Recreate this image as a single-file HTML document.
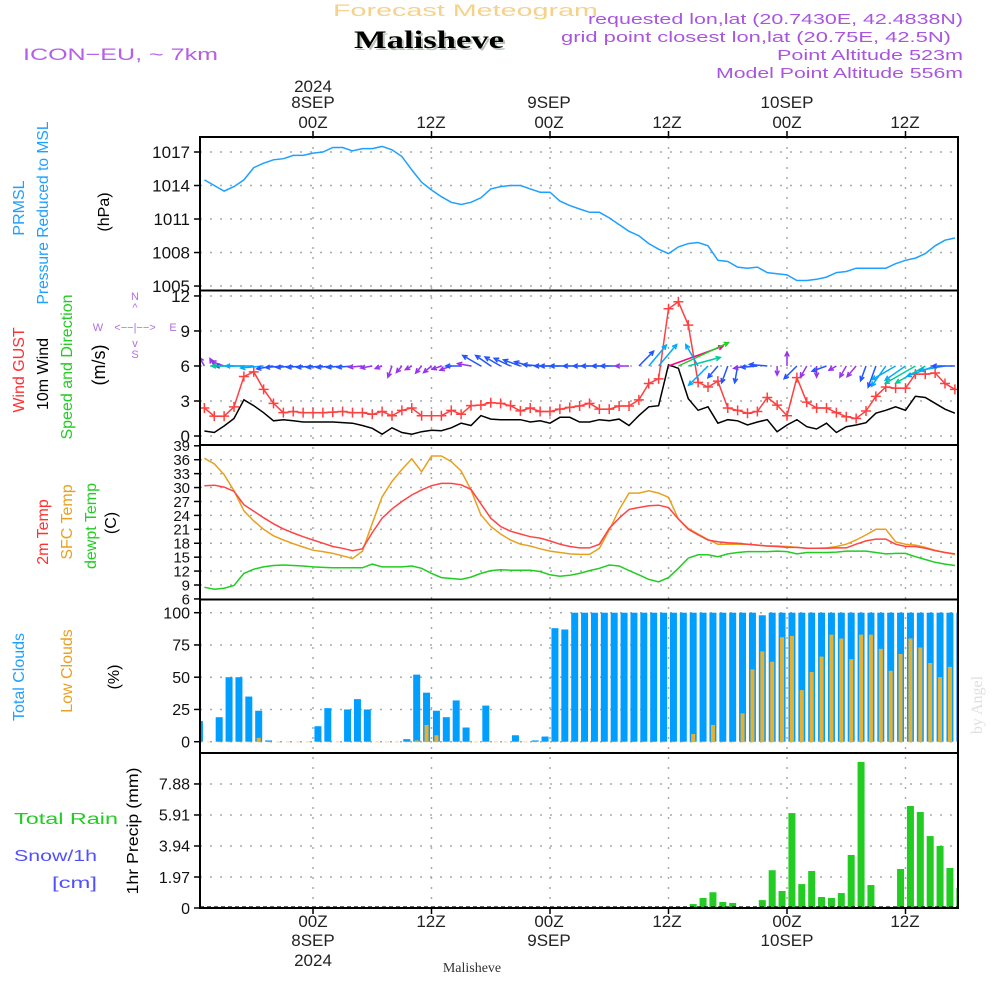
<!DOCTYPE html>
<html><head><meta charset="utf-8"><style>
html,body{margin:0;padding:0;background:#fff;}
svg{display:block;font-family:"Liberation Sans",sans-serif;}
</style></head><body>
<svg id="chart" width="1000" height="1000" viewBox="0 0 1000 1000" xmlns="http://www.w3.org/2000/svg">
<rect x="0" y="0" width="1000" height="1000" fill="#fff"/>
<g id="texts">
<text x="333" y="16" font-size="17" fill="#f5d28a" textLength="265" lengthAdjust="spacingAndGlyphs">Forecast Meteogram</text>
<text x="356" y="50" font-family="Liberation Serif,serif" font-weight="bold" font-size="25" fill="#b8c4b8" textLength="150" lengthAdjust="spacingAndGlyphs">Malisheve</text>
<text x="354" y="48" font-family="Liberation Serif,serif" font-weight="bold" font-size="25" fill="#000" textLength="150" lengthAdjust="spacingAndGlyphs">Malisheve</text>
<text x="23" y="60" font-size="17" fill="#b65ee8" textLength="195" lengthAdjust="spacingAndGlyphs">ICON−EU, ~ 7km</text>
<g fill="#a855e0" font-size="15" text-anchor="end">
<text x="963" y="24" textLength="375" lengthAdjust="spacingAndGlyphs">requested lon,lat (20.7430E, 42.4838N)</text>
<text x="951" y="42" textLength="390" lengthAdjust="spacingAndGlyphs">grid point closest lon,lat (20.75E, 42.5N)</text>
<text x="963" y="60" textLength="186" lengthAdjust="spacingAndGlyphs">Point Altitude 523m</text>
<text x="963" y="78" textLength="247" lengthAdjust="spacingAndGlyphs">Model Point Altitude 556m</text>
</g>
<g fill="#222" font-size="17" text-anchor="middle">
<text x="313" y="92">2024</text>
<text x="313" y="108">8SEP</text>
<text x="549" y="108">9SEP</text>
<text x="787" y="108">10SEP</text>
<text x="313" y="128">00Z</text>
<text x="431" y="128">12Z</text>
<text x="549" y="128">00Z</text>
<text x="667" y="128">12Z</text>
<text x="787" y="128">00Z</text>
<text x="905" y="128">12Z</text>
<text x="313" y="927">00Z</text>
<text x="431" y="927">12Z</text>
<text x="549" y="927">00Z</text>
<text x="667" y="927">12Z</text>
<text x="787" y="927">00Z</text>
<text x="905" y="927">12Z</text>
<text x="313" y="946">8SEP</text>
<text x="549" y="946">9SEP</text>
<text x="787" y="946">10SEP</text>
<text x="313" y="966">2024</text>
</g>
<text x="472" y="972" text-anchor="middle" font-family="Liberation Serif,serif" font-size="14" fill="#333">Malisheve</text>
<text transform="translate(982,705) rotate(-90)" text-anchor="middle" font-family="Liberation Serif,serif" font-size="16" fill="#dde0dd">by Angel</text>
<g font-size="16" text-anchor="middle">
<text transform="translate(24,208) rotate(-90)" fill="#1ea0ff">PRMSL</text>
<text transform="translate(48,213) rotate(-90)" fill="#1ea0ff" textLength="183" lengthAdjust="spacingAndGlyphs">Pressure Reduced to MSL</text>
<text transform="translate(109,212) rotate(-90)" fill="#000">(hPa)</text>
<text transform="translate(24,370) rotate(-90)" fill="#ff3030">Wind GUST</text>
<text transform="translate(48,374) rotate(-90)" fill="#000">10m Wind</text>
<text transform="translate(72,367) rotate(-90)" fill="#22cc22" textLength="145" lengthAdjust="spacingAndGlyphs">Speed and Direction</text>
<text transform="translate(105,365) rotate(-90)" fill="#000" font-size="18">(m/s)</text>
<text transform="translate(48,532) rotate(-90)" fill="#ff3030">2m Temp</text>
<text transform="translate(72,522) rotate(-90)" fill="#e8a020">SFC Temp</text>
<text transform="translate(96,526) rotate(-90)" fill="#22cc22">dewpt Temp</text>
<text transform="translate(116,523) rotate(-90)" fill="#000">(C)</text>
<text transform="translate(24,677) rotate(-90)" fill="#1ea0ff">Total Clouds</text>
<text transform="translate(72,671) rotate(-90)" fill="#e8a020">Low Clouds</text>
<text transform="translate(119,677) rotate(-90)" fill="#000">(%)</text>
<text transform="translate(138,831) rotate(-90)" fill="#000" textLength="127" lengthAdjust="spacingAndGlyphs">1hr Precip (mm)</text>
</g>
<text x="14" y="824" font-size="16" fill="#22cc22" textLength="104" lengthAdjust="spacingAndGlyphs">Total  Rain</text>
<text x="14" y="861" font-size="16" fill="#5050ff" textLength="83" lengthAdjust="spacingAndGlyphs">Snow/1h</text>
<text x="52" y="888" font-size="16" fill="#5050ff" textLength="45" lengthAdjust="spacingAndGlyphs">[cm]</text>
<g fill="#b070e0" font-size="11" text-anchor="middle">
<text x="135" y="300">N</text><text x="135" y="311">^</text>
<text x="98" y="331">W</text><text x="135" y="331">&lt;−−|−−&gt;</text><text x="173" y="331">E</text>
<text x="135" y="347">v</text><text x="135" y="358">S</text>
</g>
</g>
<g id="plot"></g>
</svg>
<script>
// ---- data (hourly, hour offset from 00Z 8SEP) ----
var hourStart = -11;
var pressure = [1014.5,1014.0,1013.5,1013.9,1014.5,1015.6,1016.0,1016.3,1016.4,1016.7,1016.7,1016.9,1017.0,1017.4,1017.4,1017.1,1017.3,1017.3,1017.5,1017.2,1016.6,1015.4,1014.3,1013.6,1013.0,1012.5,1012.3,1012.5,1012.9,1013.7,1013.9,1014.0,1014.0,1013.7,1013.4,1013.4,1012.6,1012.2,1011.9,1011.6,1011.6,1011.1,1010.5,1009.9,1009.5,1008.8,1008.3,1007.9,1008.5,1008.8,1008.9,1008.6,1007.3,1007.2,1006.7,1006.6,1006.7,1006.2,1006.1,1006.0,1005.5,1005.5,1005.6,1005.8,1006.2,1006.3,1006.6,1006.6,1006.6,1006.6,1007.0,1007.3,1007.5,1007.9,1008.6,1009.1,1009.3];
var wind10m = [0.43,0.3,0.86,1.5,3.1,2.6,2.0,1.3,1.4,1.3,1.2,1.2,1.2,1.2,1.15,1.1,0.9,0.66,0.15,0.7,0.3,0.15,0.37,0.5,0.45,0.7,1.1,0.9,1.75,1.45,1.4,1.4,1.4,1.2,1.3,1.1,1.6,1.6,1.2,1.2,1.4,1.3,1.45,0.9,1.75,2.5,2.6,6.1,5.8,3.2,2.2,2.5,1.1,1.4,1.3,0.94,1.2,1.4,0.37,0.94,1.4,0.8,0.6,1.1,0.3,0.8,0.94,1.14,1.95,2.2,2.5,2.2,3.4,3.3,2.8,2.3,1.95];
var gust = [2.4,1.7,1.7,2.5,5.1,5.5,4.0,2.8,2.0,2.1,2.0,2.0,2.0,2.05,2.1,2.0,2.0,1.86,2.1,1.74,2.2,2.4,1.74,1.74,1.74,2.2,1.86,2.6,2.65,2.85,2.8,2.6,2.15,2.4,2.1,2.1,2.3,2.45,2.57,2.8,2.3,2.3,2.57,2.57,3.1,4.5,4.9,10.9,11.5,9.5,4.6,4.2,4.7,2.4,2.2,1.95,2.1,3.3,2.65,1.74,5.0,2.9,2.4,2.4,2.0,1.65,1.5,2.14,3.4,4.2,4.1,4.1,5.3,5.3,5.4,4.5,4.0];
var windDir = [120,120,160,180,180,180,185,190,185,185,185,185,185,185,185,185,185,190,200,250,230,210,230,220,200,200,180,170,150,145,150,155,160,165,175,180,180,180,180,180,180,180,180,180,45,50,50,20,25,15,120,225,230,250,260,190,185,175,270,90,225,240,270,200,210,240,230,250,250,235,210,215,210,210,200,190,180];
var temp2m = [30.4,30.5,30.1,29.2,26.3,24.9,23.5,22.2,21.1,20.2,19.4,18.7,18.0,17.3,16.9,16.4,16.8,20.3,23.4,25.4,27.0,28.4,29.5,30.4,30.9,30.9,30.6,29.6,26.5,23.4,21.6,20.6,20.0,19.4,19.1,18.5,17.8,17.3,17.0,17.0,17.8,21.2,23.4,25.3,25.7,26.1,26.2,25.7,23.2,21.0,19.8,18.7,18.3,18.1,18.0,17.8,17.6,17.4,17.3,17.1,17.1,16.9,16.9,16.9,17.0,17.0,17.8,18.5,18.9,18.9,17.8,17.3,17.3,16.9,16.4,16.0,15.7];
var tempSfc = [36.3,35.1,32.8,29.3,25.0,22.8,21.0,19.6,18.7,17.9,17.2,16.5,16.2,15.8,15.3,14.7,16.3,22.3,28.0,31.3,33.9,36.2,33.4,36.8,36.8,35.6,33.6,29.5,24.1,21.6,20.0,18.7,17.8,17.4,16.8,16.3,16.0,15.7,15.6,15.6,16.9,20.9,25.2,28.8,28.8,29.3,28.8,27.9,23.2,21.2,20.0,18.8,17.8,17.8,17.8,17.8,17.6,17.4,17.4,17.3,17.1,16.9,16.9,17.0,17.3,17.8,18.7,19.8,21.0,21.0,18.3,17.8,17.6,17.1,16.5,16.0,15.6];
var dewpoint = [8.5,8.1,8.3,8.9,11.5,12.4,12.9,13.2,13.3,13.2,13.1,12.9,12.8,12.7,12.7,12.7,12.7,13.5,12.9,12.9,12.9,13.1,12.6,11.5,10.6,10.4,10.2,10.7,11.5,12.1,12.3,12.2,12.2,12.2,11.9,11.2,10.9,11.1,11.5,12.1,12.6,13.3,13.1,12.1,11.2,10.2,9.7,10.6,12.6,14.8,15.5,15.5,15.1,15.7,16.0,16.2,16.2,16.2,16.3,16.2,15.7,16.0,16.0,16.0,16.1,16.3,16.3,16.3,16.0,15.7,15.8,15.8,15.1,14.5,13.9,13.5,13.2];
// hourly accumulations / cloud bars: hour ending, from barStart
var barStart = -11;
var totalClouds = [16,0,19,50,50,35,24,1,0,0,0,0,12,26,0,25,33,25,0,0,0,2,52,38,24,19,32,11,0,28,0,0,5,0,1,4,88,87,100,100,100,100,100,100,100,100,100,100,100,100,100,100,100,100,100,100,100,98,100,100,100,100,100,100,100,100,100,100,100,100,100,100,100,100,100,100,100,100];
var lowClouds = [0,0,0,0,0,0,3,0,0,0,0,0,0,0,0,0,0,0,0,0,0,0,1,13,5,0,0,0,0,0,0,0,0,0,0,0,0,0,0,0,0,0,0,0,0,0,0,0,0,0,6,0,13,0,0,22,56,70,62,81,82,40,54,66,83,80,64,83,83,72,55,68,80,73,61,50,58,65];
var precip = [0,0,0,0,0,0,0,0,0,0,0,0,0,0,0,0,0,0,0,0,0,0,0,0,0,0,0,0,0,0,0,0,0,0,0,0,0,0,0,0,0,0,0,0,0,0,0,0,0,0.06,0.25,0.64,1.0,0.38,0.32,0.06,0,0.5,2.4,1.08,6.03,1.52,2.35,0.7,0.64,0.95,3.37,9.28,1.46,0,0.06,2.48,6.48,6.1,4.57,3.94,2.54,1.27];
var pTicks = [1005,1008,1011,1014,1017];
var wTicks = [0,3,6,9,12];
var tTicks = [6,9,12,15,18,21,24,27,30,33,36,39];
var cTicks = [0,25,50,75,100];
var rTicks = ["0","1.97","3.94","5.91","7.88"];
var timeTicks = [0,12,24,36,48,60];

// ---- scales ----
var L=200,R=958;
function X(t){return 313+t*9.875;}
function yP(p){return 152+(1017-p)*11.17;}
function yW(v){return 436-v*11.67;}
function yT(T){return 585-(T-9)*4.64;}
function yC(c){return 741.7-c*1.29;}
function yR(p){return 908-p*15.74;}
var NS="http://www.w3.org/2000/svg";
var plot=document.getElementById('plot');
function el(tag,attrs,parent){var e=document.createElementNS(NS,tag);for(var k in attrs)e.setAttribute(k,attrs[k]);(parent||plot).appendChild(e);return e;}

var panels=[[137,290.5],[290.5,445],[445,599.5],[599.5,753],[753,908]];
// clip
var defs=el('defs',{});
panels.forEach(function(p,i){var cp=el('clipPath',{id:'clip'+i},defs);el('rect',{x:L,y:p[0],width:R-L,height:p[1]-p[0]},cp);});

// grids
function hgrid(vals,fn,name){vals.forEach(function(v){var g=el('line',{x1:L,x2:R,y1:fn(v),y2:fn(v),stroke:'#aaa','stroke-width':1.5,'stroke-dasharray':'2,8'});

});}
hgrid(pTicks,yP,'pressure-gridline');hgrid(wTicks,yW,'wind-gridline');hgrid(tTicks.slice(1,11),yT,'temp-gridline');hgrid(cTicks,yC,'cloud-gridline');hgrid([0,1.97,3.94,5.91,7.88],yR,'precip-gridline');
timeTicks.forEach(function(t){var g=el('line',{x1:X(t),x2:X(t),y1:137,y2:908,stroke:'#aaa','stroke-width':1.5,'stroke-dasharray':'2,8'});

});

// y tick labels
function yticks(vals,labels,fn,name,fs){vals.forEach(function(v,i){var y=fn(v);
var tk=el('line',{x1:194,x2:200,y1:y,y2:y,stroke:'#000','stroke-width':1.5});


var t=el('text',{x:190,y:y+fs*0.36,'text-anchor':'end','font-size':fs,fill:'#111'});t.textContent=labels[i];

});}
yticks(pTicks,pTicks,yP,'pressure',17);
yticks(wTicks,wTicks,yW,'wind',17);
yticks(tTicks,tTicks,yT,'temp',15);
yticks(cTicks,cTicks,yC,'cloud',16);
yticks(rTicks.map(Number),rTicks,yR,'precip',16);
timeTicks.forEach(function(t){
var a=el('line',{x1:X(t),x2:X(t),y1:131,y2:137,stroke:'#000','stroke-width':1.5});


var b=el('line',{x1:X(t),x2:X(t),y1:908,y2:914,stroke:'#000','stroke-width':1.5});

});

function line(arr,fn,color,name,clip){var pts=arr.map(function(v,i){return X(hourStart+i).toFixed(1)+','+fn(v).toFixed(1);}).join(' ');
var p=el('polyline',{points:pts,fill:'none',stroke:color,'stroke-width':1.5,'clip-path':'url(#clip'+clip+')'});

return p;}

// pressure
line(pressure,yP,'#1ea0ff','pressure-line',0);
// wind
line(wind10m,yW,'#000','wind10m-line',1);
line(gust,yW,'#ff4040','gust-line',1);
gust.forEach(function(v,i){var x=X(hourStart+i),y=yW(v);
var m=el('path',{d:'M'+(x-5)+','+y+'h10M'+x+','+(y-5)+'v10',stroke:'#ff4040','stroke-width':1.5,'clip-path':'url(#clip1)'});

});
function windColor(s){return s<1?'#9933ee':s<2?'#2255ff':s<3?'#00aaff':s<4.5?'#00cc99':s<6?'#22cc22':'#ff0088';}
windDir.forEach(function(d,i){var s=wind10m[i];var len=6+s*8.5;var a=d*Math.PI/180;
var x0=X(hourStart+i),y0=yW(6);var x1=x0+len*Math.cos(a),y1=y0-len*Math.sin(a);
var hl=5,h1=a+Math.PI-0.45,h2=a+Math.PI+0.45;
var dd='M'+x0.toFixed(1)+','+y0.toFixed(1)+'L'+x1.toFixed(1)+','+y1.toFixed(1)+'M'+(x1+hl*Math.cos(h1)).toFixed(1)+','+(y1-hl*Math.sin(h1)).toFixed(1)+'L'+x1.toFixed(1)+','+y1.toFixed(1)+'L'+(x1+hl*Math.cos(h2)).toFixed(1)+','+(y1-hl*Math.sin(h2)).toFixed(1);
var p=el('path',{d:dd,stroke:windColor(s),'stroke-width':1.5,fill:'none','clip-path':'url(#clip1)'});

});
// temps
line(tempSfc,yT,'#e8a020','sfc-temp-line',2);
line(temp2m,yT,'#ff4444','temp2m-line',2);
line(dewpoint,yT,'#22cc22','dewpoint-line',2);
// clouds
totalClouds.forEach(function(v,i){var xc=X(barStart+i-0.5);
var b=el('rect',{x:xc-3.5,y:yC(v),width:7,height:yC(0)-yC(v),fill:'#009fff','clip-path':'url(#clip3)'});

});
lowClouds.forEach(function(v,i){var xc=X(barStart+i-0.5);
var b=el('rect',{x:xc-2,y:yC(v),width:4,height:yC(0)-yC(v)+0.5,fill:'#e8b030','clip-path':'url(#clip3)'});

});
// precip
precip.forEach(function(v,i){if(v<=0)return;var xc=X(barStart+i-0.5);
var b=el('rect',{x:xc-3.5,y:yR(v),width:7,height:yR(0)-yR(v),fill:'#22cc22','clip-path':'url(#clip4)'});

});
var sn=el('line',{x1:L,x2:R,y1:907,y2:907,stroke:'#000','stroke-width':1.2,'stroke-dasharray':'4,3'});



// frames
panels.forEach(function(p,i){var r=el('rect',{x:L,y:p[0],width:R-L,height:p[1]-p[0],fill:'none',stroke:'#000','stroke-width':2});

});
</script>
</body></html>
